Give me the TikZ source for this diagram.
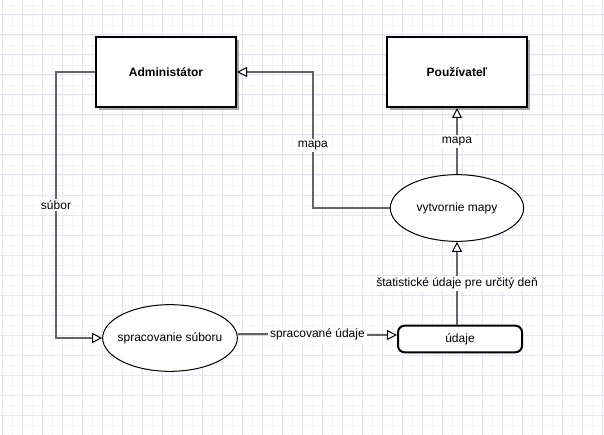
\documentclass[tikz,border=0pt]{standalone}
\usepackage{fontspec}
\setmainfont{Liberation Sans}
\usepackage{tikz}
\usetikzlibrary{arrows.meta,shapes.geometric,shadows,positioning}
\definecolor{gridmajor}{RGB}{230,230,240}
\definecolor{gridminor}{RGB}{244,244,248}
\definecolor{linegray}{RGB}{100,100,100}
\tikzset{
    %Define standard arrow tip
    >={Triangle[open,length=7.5pt,width=7.5pt,fill=white,line width=0.75pt,color=black]},
    %Define style for actors
    actor/.style={
           rectangle,
           draw=black, line width=1.5pt,
           fill=white,
           minimum width=105pt,
           minimum height=52.5pt,
           font=\bfseries\fontsize{9}{11}\selectfont,
           text centered,
           drop shadow={shadow xshift=2.5pt,shadow yshift=-2.5pt,fill=black!35,opacity=1}
           },
    %Define style for processes
    process/.style={
           ellipse,
           draw=black, line width=0.75pt,
           fill=white,
           inner sep=0pt,
           minimum width=100pt,
           minimum height=50pt,
           font=\fontsize{9}{11}\selectfont,
           text centered
           },
    %Define style for data store
    store/.style={
           rectangle,
           rounded corners=5pt,
           draw=black, line width=1.5pt,
           fill=white,
           minimum width=93pt,
           minimum height=20pt,
           font=\fontsize{9}{11}\selectfont,
           text centered
           },
    % Define arrow style
    flow/.style={
           ->,
           draw=linegray,
           line width=1.5pt},
    lbl/.style={
           fill=white,
           inner sep=1.5pt,
           font=\fontsize{9}{11}\selectfont}
}
\begin{document}
\begin{tikzpicture}[x=0.75pt,y=-0.75pt]
\useasboundingbox (0,0) rectangle (604,435);
 %grid
\fill[white] (0,0) rectangle (604,435);
\foreach \i in {0,...,60} \draw[gridminor,line width=0.5pt] (2.5+10*\i,0) -- (2.5+10*\i,435);
\foreach \i in {0,...,43} \draw[gridminor,line width=0.5pt] (0,5+10*\i) -- (604,5+10*\i);
\foreach \i in {0,...,30} \draw[gridmajor,line width=0.75pt] (2.5+20*\i,0) -- (2.5+20*\i,435);
\foreach \i in {0,...,21} \draw[gridmajor,line width=0.75pt] (0,15+20*\i) -- (604,15+20*\i);

 %nodes
\node[actor] (admin) at (166,72) {Administátor};
\node[actor] (user) at (457,72) {Používateľ};
\node[process] (mapy) at (457,208) {vytvornie mapy};
\node[process, minimum width=101pt, inner xsep=-12pt] (spracovanie) at (170,338) {spracovanie súboru};
\node[store] (udaje) at (460,339) {údaje};

 %flows
\draw[flow] (admin.west) -- ++(-39,0) |- node[lbl,pos=0.25] {súbor} (spracovanie);
\draw[flow] ([yshift=3pt]spracovanie.east) -- node[lbl] {spracované údaje} ([yshift=3pt]udaje.west);
\draw[flow] (udaje.north -| mapy) -- node[lbl] {štatistické údaje pre určitý deň} (mapy);
\draw[flow] (mapy) -- node[lbl] {mapa} (user);
\draw[flow] (mapy.west) -- ++(-77,0) |- node[lbl,pos=0.23] {mapa} (admin);
\end{tikzpicture}
\end{document}
